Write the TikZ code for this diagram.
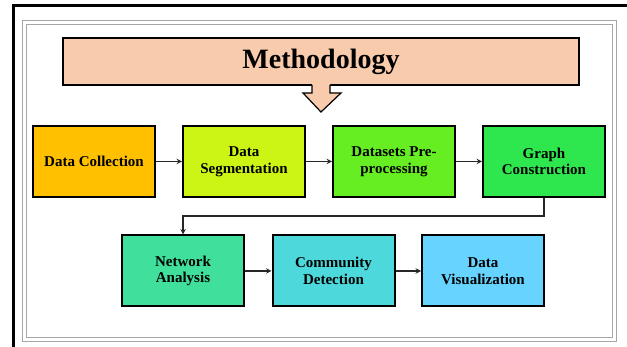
\documentclass[tikz,border=0pt]{standalone}
\usepackage{fontspec}
\setmainfont{Liberation Serif}
\definecolor{peach}{HTML}{F8CBAD}
\definecolor{dcol}{HTML}{FFC000}
\definecolor{dseg}{HTML}{CCF516}
\definecolor{dpre}{HTML}{66EE22}
\definecolor{gcon}{HTML}{2EE64E}
\definecolor{nana}{HTML}{40E09C}
\definecolor{cdet}{HTML}{4DD9DB}
\definecolor{dvis}{HTML}{66D4FF}
\begin{document}
\begin{tikzpicture}[x=1pt,y=-1pt,>=stealth,
    stage/.style={draw=black,line width=2pt,minimum width=122pt,minimum height=71pt,
        align=center,font=\fontsize{15}{16.5}\selectfont\bfseries},
    link/.style={->,line width=1.4pt,draw=black!85}]
    \useasboundingbox (0,0) rectangle (627,347);
    % frames
    \draw[line width=3pt] (13,347) -- (13,6) -- (627,6);
    \draw[gray!70,line width=0.8pt] (22,20) rectangle (616,341);
    \draw[gray!70,line width=0.8pt] (26,24) rectangle (612,337);
    % title and arrow
    \node (title) at (321,61.5) [draw=black,line width=1.2pt,fill=peach,minimum width=516pt,minimum height=47pt,
        font=\fontsize{28}{30}\selectfont\bfseries] {Methodology};
    \fill[peach] (312,84) -- (312,93) -- (303,93) -- (321,112) -- (341,93) -- (330,93) -- (330,84) -- cycle;
    \draw[line width=1.2pt,line join=miter] (312,85) -- (312,93) -- (303,93) -- (321,112) -- (341,93) -- (330,93) -- (330,85);
    % first row
    \node (dc) at (94,161.5) [stage,fill=dcol] {Data Collection};
    \node (ds) at (244,161.5) [stage,fill=dseg] {Data\\Segmentation};
    \node (dp) at (394,161.5) [stage,fill=dpre] {Datasets Pre-\\processing};
    \node (gc) at (544,161.5) [stage,fill=gcon] {Graph\\Construction};
    % second row
    \node (na) at (183,271) [stage,fill=nana] {Network\\Analysis};
    \node (cd) at (333.5,271) [stage,fill=cdet] {Community\\Detection};
    \node (dv) at (483,271) [stage,fill=dvis] {Data\\Visualization};
    \draw[link] (dc) -- (ds);
    \draw[link] (ds) -- (dp);
    \draw[link] (dp) -- (gc);
    \draw[link] (gc.south) -- ++(0,18) -| (na.north);
    \draw[link] (na) -- (cd);
    \draw[link] (cd) -- (dv);
\end{tikzpicture}
\end{document}
